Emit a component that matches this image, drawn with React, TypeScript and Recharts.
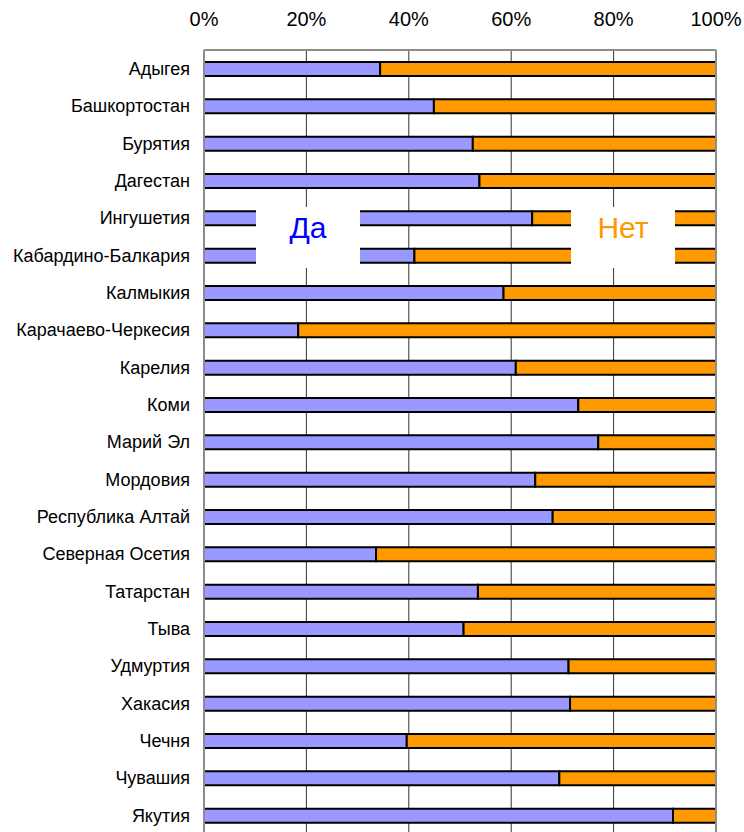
import { Bar, BarChart, CartesianGrid, Legend, ReferenceLine, XAxis, YAxis } from 'recharts'

const regions = [
  'Адыгея',
  'Башкортостан',
  'Бурятия',
  'Дагестан',
  'Ингушетия',
  'Кабардино-Балкария',
  'Калмыкия',
  'Карачаево-Черкесия',
  'Карелия',
  'Коми',
  'Марий Эл',
  'Мордовия',
  'Республика Алтай',
  'Северная Осетия',
  'Татарстан',
  'Тыва',
  'Удмуртия',
  'Хакасия',
  'Чечня',
  'Чувашия',
  'Якутия',
]

// share of answers, %
const yesShare = [34.4, 44.9, 52.5, 53.8, 64.1, 41.1, 58.5, 18.4, 60.9, 73.1, 77.0, 64.7, 68.1, 33.6, 53.5, 50.7, 71.2, 71.5, 39.6, 69.4, 91.6]
const noShare = [65.6, 55.1, 47.5, 46.2, 35.9, 58.9, 41.5, 81.6, 39.1, 26.9, 23.0, 35.3, 31.9, 66.4, 46.5, 49.3, 28.8, 28.5, 60.4, 30.6, 8.4]

const xTicks = [0, 20, 40, 60, 80, 100]

const seriesNames = ['Да', 'Нет']
const barColors = ['#9999ff', '#ff9900']
const labelColors = ['#0000ff', '#ff9900']

const FONT = '"Liberation Sans", Arial, sans-serif'

const chartData = regions.map((region, i) => ({
  region,
  yes: yesShare[i],
  no: noShare[i],
}))

// white label boxes sitting over the plot
const legendBoxLeft = [256, 571]

function LegendBoxes({ payload }: { payload?: { value: string }[] }) {
  return (
    <div style={{ position: 'relative', width: 744, height: 0 }}>
      {(payload ?? []).map((entry, i) => (
        <div
          key={entry.value}
          style={{
            position: 'absolute',
            left: legendBoxLeft[i],
            top: 207,
            width: 104,
            height: 61,
            background: '#fff',
          }}
        >
          <div
            style={{
              position: 'absolute',
              left: 0,
              right: 0,
              top: 6,
              textAlign: 'center',
              fontFamily: FONT,
              fontSize: 30,
              lineHeight: '30px',
              color: labelColors[seriesNames.indexOf(entry.value)],
            }}
          >
            {entry.value}
          </div>
        </div>
      ))}
    </div>
  )
}

export default function App() {
  return (
    <div style={{ width: 744, height: 832, overflow: 'hidden', background: '#fff' }}>
      <style>{'body{margin:0;overflow:hidden}'}</style>
      <BarChart
        width={744}
        height={840}
        data={chartData}
        layout="vertical"
        margin={{ top: 20, right: 28, left: 0, bottom: 6 }}
        barSize={14}
      >
        <CartesianGrid horizontal={false} stroke="#333" strokeWidth={1} />
        <ReferenceLine x={0} stroke="#8c8c8c" strokeWidth={2} />
        <ReferenceLine x={100} stroke="#8c8c8c" strokeWidth={2} />
        <XAxis
          type="number"
          orientation="top"
          domain={[0, 100]}
          ticks={xTicks}
          tickFormatter={(v) => `${v}%`}
          height={30}
          tickLine={false}
          tickSize={6}
          tickMargin={18}
          axisLine={{ stroke: '#8c8c8c', strokeWidth: 2 }}
          tick={{ fontSize: 20, fill: '#000', fontFamily: FONT }}
        />
        <YAxis
          type="category"
          dataKey="region"
          width={204}
          interval={0}
          tickLine={false}
          axisLine={false}
          tickSize={6}
          tickMargin={8}
          tick={{ fontSize: 18, fill: '#000', fontFamily: FONT }}
        />
        <Legend
          layout="horizontal"
          verticalAlign="middle"
          align="center"
          wrapperStyle={{ left: 0, top: 0, width: 744, height: 0 }}
          content={(props: any) => <LegendBoxes payload={props.payload} />}
        />
        <Bar
          dataKey="yes"
          name={seriesNames[0]}
          stackId="a"
          fill={barColors[0]}
          stroke="#000"
          strokeWidth={2}
          isAnimationActive={false}
        />
        <Bar
          dataKey="no"
          name={seriesNames[1]}
          stackId="a"
          fill={barColors[1]}
          stroke="#000"
          strokeWidth={2}
          isAnimationActive={false}
        />
      </BarChart>
    </div>
  )
}
